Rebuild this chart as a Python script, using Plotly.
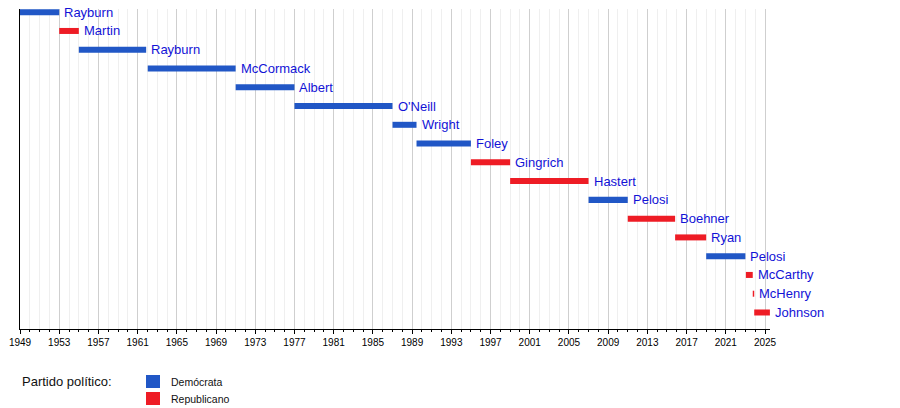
import plotly.graph_objects as go

names = ["Rayburn", "Martin", "Rayburn", "McCormack", "Albert", "O'Neill", "Wright",
         "Foley", "Gingrich", "Hastert", "Pelosi", "Boehner", "Ryan", "Pelosi",
         "McCarthy", "McHenry", "Johnson"]
starts = [1949.0, 1953.0, 1955.0, 1962.03, 1971.0, 1977.0, 1987.0, 1989.45, 1995.0,
          1999.0, 2007.0, 2011.0, 2015.83, 2019.0, 2023.05, 2023.75, 2023.9]
ends = [1953.0, 1955.0, 1961.87, 1971.0, 1977.0, 1987.0, 1989.45, 1995.0, 1999.0,
        2007.0, 2011.0, 2015.83, 2019.0, 2023.0, 2023.75, 2023.9, 2025.5]
parties = ["D", "R", "D", "D", "D", "D", "D", "D", "R", "R", "D", "R", "R", "D",
           "R", "R", "R"]

party_names = {"D": "Demócrata", "R": "Republicano"}
party_colors = {"D": "#2157c6", "R": "#ee1c25"}
label_color = "#1212d6"

W, H = 900, 408
L, R, T, B = 20, 130, 9, 79
pw, ph = W - L - R, H - T - B

fig = go.Figure()
rows = list(range(len(names)))
for p in ["D", "R"]:
    idx = [i for i in rows if parties[i] == p]
    fig.add_trace(go.Bar(
        orientation="h",
        y=[rows[i] for i in idx],
        x=[ends[i] - starts[i] for i in idx],
        base=[starts[i] for i in idx],
        width=0.32,
        marker=dict(color=party_colors[p], line=dict(width=0)),
        name=party_names[p],
        showlegend=False,
        hoverinfo="skip",
    ))

for i in rows:
    fig.add_annotation(x=ends[i], y=rows[i], text=names[i], showarrow=False,
                       xanchor="left", yanchor="middle", xshift=3,
                       font=dict(family="Liberation Sans, Arial", size=13, color=label_color))

def px_x(v):
    return (v - L) / pw

def px_y(v):
    return (H - B - v) / ph

# legend
fig.add_annotation(xref="paper", yref="paper", x=px_x(20), y=px_y(381), text="Partido político:",
                   showarrow=False, xanchor="left", yanchor="middle",
                   font=dict(family="Liberation Sans, Arial", size=13, color="#111111"))
for p, yc in [("D", 381.5), ("R", 398.5)]:
    fig.add_shape(type="rect", xref="paper", yref="paper",
                  x0=px_x(146), x1=px_x(160), y0=px_y(yc - 6.5), y1=px_y(yc + 6.5),
                  fillcolor=party_colors[p], line=dict(width=0))
    fig.add_annotation(xref="paper", yref="paper", x=px_x(169), y=px_y(yc), text=party_names[p],
                       showarrow=False, xanchor="left", yanchor="middle",
                       font=dict(family="Liberation Sans, Arial", size=10.5, color="#111111"))

fig.update_layout(
    width=W, height=H,
    margin=dict(l=L, r=R, t=T, b=B, pad=0),
    plot_bgcolor="white", paper_bgcolor="white",
    barmode="overlay",
    showlegend=False,
    hovermode=False,
    xaxis=dict(range=[1949, 2025.51], tick0=1949, dtick=4, showgrid=True,
               gridcolor="#cfcfcf", gridwidth=1, ticks="outside", ticklen=4,
               tickcolor="black", showline=True, linecolor="black", linewidth=1,
               zeroline=False,
               tickfont=dict(family="Liberation Sans, Arial", size=10, color="black"),
               minor=dict(dtick=1, tick0=1949, showgrid=True, gridcolor="#efefef",
                          ticks="outside", ticklen=2, tickcolor="black")),
    yaxis=dict(range=[16.88, -0.17], showgrid=False, showticklabels=False,
               showline=True, linecolor="black", linewidth=1, zeroline=False, ticks=""),
)

fig.write_html("out.html",
               config={"displayModeBar": False, "staticPlot": True},
               post_script="document.body.style.margin='0';document.body.style.overflow='hidden';")
